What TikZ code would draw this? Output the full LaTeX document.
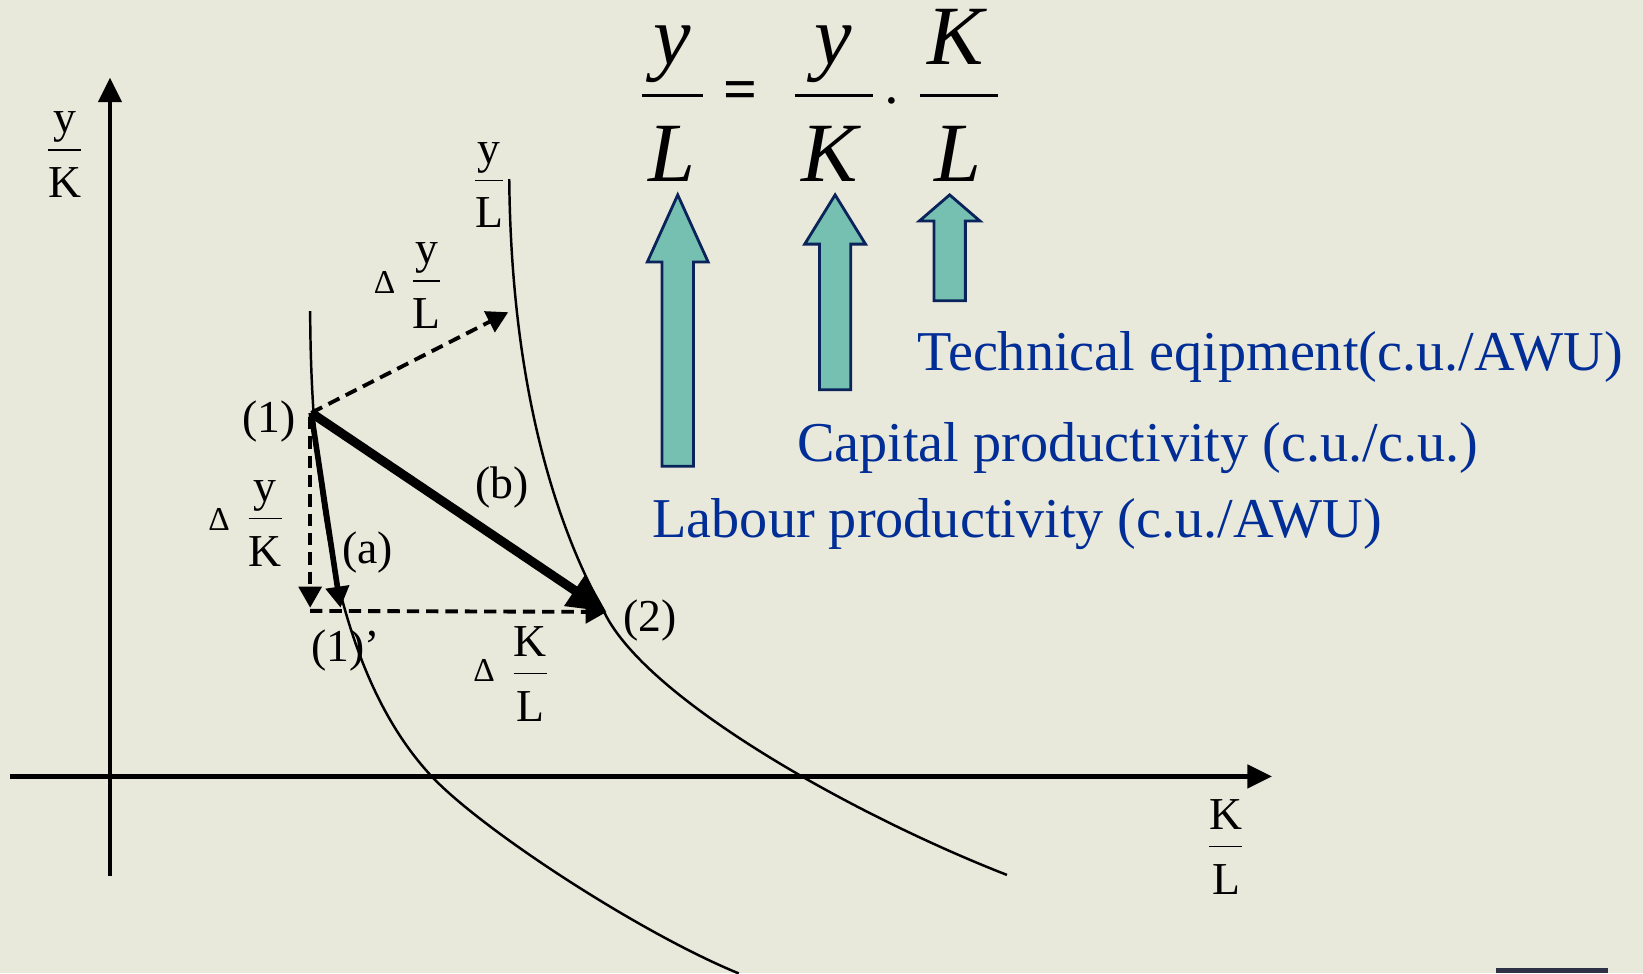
\documentclass[tikz,border=0pt]{standalone}
\usepackage{fontspec}
\setmainfont{Liberation Serif}
\usetikzlibrary{arrows.meta}
\definecolor{slidebg}{RGB}{232,232,219}
\definecolor{textblue}{RGB}{0,45,150}
\definecolor{arrowfill}{RGB}{118,192,178}
\definecolor{arrowline}{RGB}{10,35,90}
\definecolor{corner}{RGB}{45,50,70}
% upright fraction for the graph labels
\newcommand{\ratio}[2]{\begin{tabular}{@{}c@{}}#1\\\hline\rule{0pt}{13.3pt}#2\end{tabular}}
\tikzset{
  axis/.style={line width=1.3pt, -{Triangle[length=7pt,width=6.5pt]}},
  curve/.style={line width=0.7pt},
  shift arrow/.style={line width=1.1pt, dash pattern=on 3.5pt off 2pt, -{Triangle[length=6pt,width=6.5pt]}},
  move a/.style={line width=1.6pt, -{Triangle[length=6pt,width=6.5pt]}},
  move b/.style={line width=2.6pt, -{Triangle[length=11pt,width=10pt]}},
  lab/.style={font=\fontsize{13}{15.6}\selectfont, inner sep=0pt},
  delta/.style={font=\fontsize{9.5}{11}\selectfont, inner sep=0pt},
  big/.style={font=\fontsize{24}{28}\selectfont\itshape, inner sep=0pt, anchor=base},
  bluetext/.style={font=\fontsize{16}{19}\selectfont, text=textblue, inner sep=0pt, anchor=base west},
  up arrow/.style={fill=arrowfill, draw=arrowline, line width=0.8pt, line join=miter},
}
\begin{document}
\begin{tikzpicture}[x=0.10478mm, y=-0.10478mm]
    % background of the slide
    \fill[slidebg] (0,0) rectangle (1568,929);
    \useasboundingbox (0,0) rectangle (1568,929);
    \fill[corner] (1428,924) rectangle (1535,929);

    % axes
    \coordinate (xstart) at (10,741);
    \coordinate (xend) at (1214,741);
    \coordinate (ystart) at (105,836);
    \coordinate (yend) at (105,74);
    \draw[axis] (xstart) -- (xend);
    \draw[axis] (ystart) -- (yend);
    \node[lab] (ylab) at (62,147) {\ratio{y}{K}};
    \node[lab] (xlab) at (1170,812) {\ratio{K}{L}};

    % iso-productivity curves
    \draw[curve] (296,297) .. controls (297,560) and (355,680) .. (412,741)
        .. controls (460,792) and (610,890) .. (705,929);
    \draw[curve] (486,171) .. controls (488,380) and (535,510) .. (577,585)
        .. controls (618,668) and (815,778) .. (961,835);
    \node[lab] (curvelab) at (467,176) {\ratio{y}{L}};

    % points
    \coordinate (p1) at (297,394);
    \coordinate (p1a) at (325,580);
    \coordinate (p2) at (579,584);
    \coordinate (down) at (296,580);
    \coordinate (turn) at (296,583);
    \coordinate (up) at (485,298);

    \draw[shift arrow] (296,398) -- (down);
    \draw[shift arrow] (turn) -- (p2);
    \draw[shift arrow] (p1) -- (up);
    \draw[move a] (p1) -- (p1a);
    \draw[move b] (p1) -- (p2);

    \node[lab] (n1) at (257,402) {(1)};
    \node[lab] (na) at (351,527) {(a)};
    \node[lab] (nb) at (479,465) {(b)};
    \node[lab] (n1a) at (330,621) {(1)’};
    \node[lab] (n2) at (620,592) {(2)};

    \node[delta] (d1) at (367,270) {Δ};
    \node[lab] (dyl) at (407,272) {\ratio{y}{L}};
    \node[delta] (d2) at (209,496) {Δ};
    \node[lab] (dyk) at (253,499) {\ratio{y}{K}};
    \node[delta] (d3) at (462,640) {Δ};
    \node[lab] (dkl) at (506,647) {\ratio{K}{L}};

    % decomposition
    \node[big] (num1) at (642,62) {y};
    \node[big] (den1) at (641,173) {L};
    \node[font=\fontsize{17}{20}\selectfont\bfseries, inner sep=0pt] (eq) at (707,91) {=};
    \node[big] (num2) at (795,62) {y};
    \node[big] (den2) at (792,173) {K};
    \node[font=\fontsize{16}{20}\selectfont, inner sep=0pt] (dot) at (851,104) {·};
    \node[big] (num3) at (912,62) {K};
    \node[big] (den3) at (914,173) {L};
    \draw[line width=0.7pt] (613,91) -- (671,91);
    \draw[line width=0.7pt] (759,91) -- (833,91);
    \draw[line width=0.7pt] (878,91) -- (952,91);

    % growth arrows
    \foreach \cx/\tip/\neck/\base in {646.8/186/250/445, 797/186/233/372, 906.3/186/211/287}
        \draw[up arrow] (\cx-15,\base) -- (\cx-15,\neck) -- (\cx-29,\neck) -- (\cx,\tip)
            -- (\cx+29,\neck) -- (\cx+15,\neck) -- (\cx+15,\base) -- cycle;

    \node[bluetext] (tech) at (875,354) {Technical eqipment(c.u./AWU)};
    \node[bluetext] (cap) at (760,440) {Capital productivity (c.u./c.u.)};
    \node[bluetext] (lab) at (622,513) {Labour productivity (c.u./AWU)};
\end{tikzpicture}
\end{document}
